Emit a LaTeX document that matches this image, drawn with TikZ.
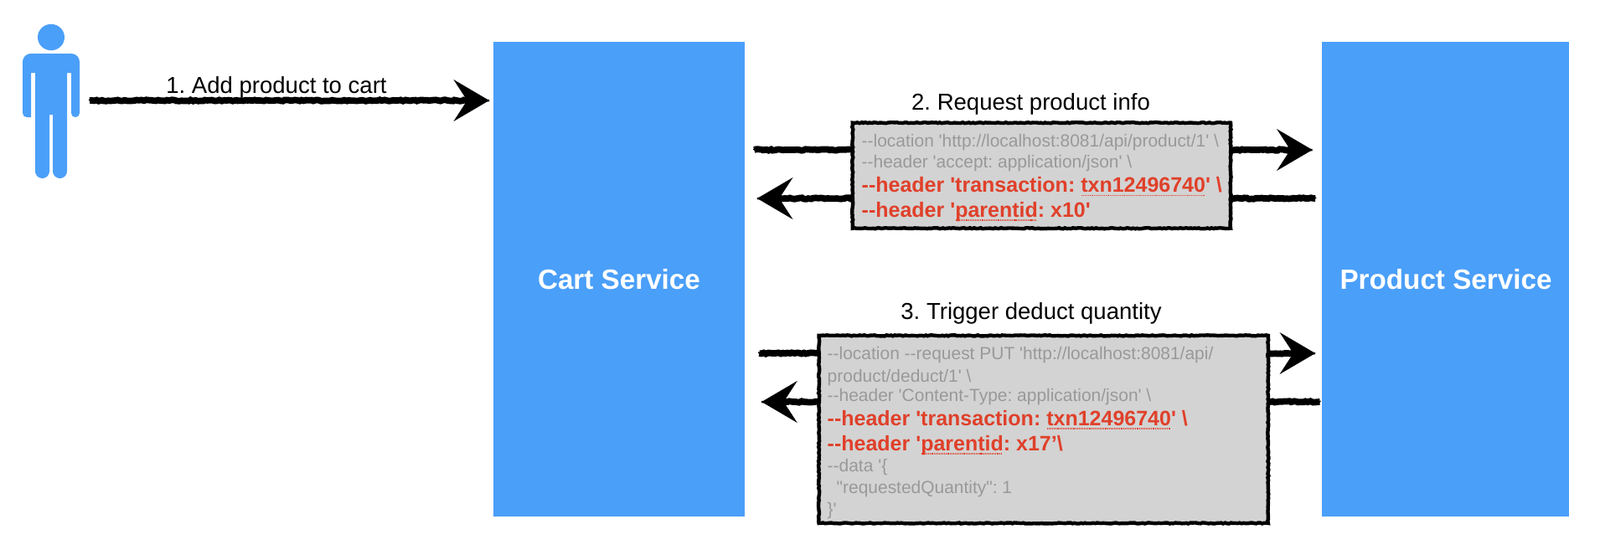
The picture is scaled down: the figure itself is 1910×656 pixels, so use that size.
\documentclass[tikz,border=0pt]{standalone}
\usepackage{fontspec}
\setmainfont{Liberation Sans}
\newfontfamily\plainfont{Liberation Sans}
\usetikzlibrary{arrows.meta,decorations.pathmorphing}

\definecolor{svcblue}{HTML}{4A9FF9}
\definecolor{codered}{HTML}{E0402A}
\definecolor{codegray}{HTML}{999999}
\definecolor{boxgray}{HTML}{D3D3D3}

\newcommand{\spellmark}[1]{\setbox0=\hbox{#1}\rlap{\raisebox{-1.3pt}{\hbox to \wd0{\leaders\hbox to .6pt{\hss\rule{.32pt}{.32pt}\hss}\hfill}}}\box0}

\tikzset{
  svcbox/.style={fill=svcblue,inner sep=0pt,outer xsep=3.2pt},
  svcname/.style={anchor=base,inner sep=0pt,text=white,font=\frenchspacing\fontsize{9.45}{11}\selectfont\bfseries},
  steplabel/.style={anchor=base,inner sep=0pt,font=\frenchspacing\fontsize{7.83}{9}\selectfont},
  jagged/.style={decorate,decoration={random steps,segment length=.7pt,amplitude=#1}},
  codebox/.style={draw=black,fill=boxgray,line width=1.25pt,inner sep=0pt,jagged=.16pt},
  roughline/.style={line width=2.2pt,decorate,
    decoration={random steps,segment length=.8pt,amplitude=.22pt,post=lineto,post length=8pt},
    -{Stealth[length=12pt,width=14pt,inset=4.5pt]},
    postaction={draw,-,line width=.7pt,jagged=.7pt}},
  grayline/.style={anchor=base west,inner sep=0pt,text=codegray,font=\frenchspacing\plainfont\fontsize{5.96}{7}\selectfont},
  redline/.style={anchor=base west,inner sep=0pt,text=codered,font=\frenchspacing\plainfont\fontsize{7.11}{8.5}\selectfont\bfseries},
}

\begin{document}
\begin{tikzpicture}[x=0.01cm,y=-0.01cm]
\useasboundingbox (0,0) rectangle (1910,656);

  % user
  \fill[svcblue] (61,44.5) ellipse (16 and 15.7);
  \fill[svcblue] (37,87) -- (37,140) [rounded corners=1.4pt] -- (27,140) [rounded corners=2.8pt] -- (27,64) -- (95,64)
    [rounded corners=1.4pt] -- (95,140) -- (85,140) [sharp corners] -- (85,87) -- (80,87)
    [rounded corners=2.4pt] -- (80,213) -- (63,213) [sharp corners] -- (63,137) -- (59,137)
    [rounded corners=2.4pt] -- (59,213) -- (42,213) [sharp corners] -- (42,87) -- cycle;

  % services
  \node[svcbox,minimum width=3cm,minimum height=5.67cm] (cart) at (739,333.5) {};
  \node[svcbox,minimum width=2.95cm,minimum height=5.67cm] (product) at (1725.5,333.5) {};
  \node[svcname] (cartname) at (739,345) {Cart Service};
  \node[svcname] (productname) at (1726,345) {Product Service};

  \coordinate (addstart) at (107,120);
  \coordinate (addend) at (584,120);
  \coordinate (reqout) at (1200,179);
  \coordinate (reqback) at (1200,237);
  \coordinate (putout) at (1200,422);
  \coordinate (putback) at (1200,480);

  \draw[roughline] (addstart)--(addend);
  \draw[roughline] (cart.east |- reqout)--(product.west |- reqout);
  \draw[roughline] ([xshift=1pt]product.west |- reqback)--([xshift=1pt]cart.east |- reqback);
  \draw[roughline] ([xshift=1.7pt]cart.east |- putout)--([xshift=1pt]product.west |- putout);
  \draw[roughline] ([xshift=2.5pt]product.west |- putback)--([xshift=2.5pt]cart.east |- putback);

  \node[steplabel] (addlabel) at (330,111.7) {1. Add product to cart};
  \node[steplabel] (reqlabel) at (1230.5,131.5) {2. Request product info};
  \node[steplabel] (putlabel) at (1231,381.7) {3. Trigger deduct quantity};

  % request boxes
  \node[codebox,minimum width=4.51cm,minimum height=1.26cm] (reqbox) at (1243.4,209.7) {};
  \node[grayline] (reqa) at (1028,175) {-{}-location 'http://localhost:8081/api/product/1' \textbackslash};
  \node[grayline] (reqb) at (1028,200) {-{}-header 'accept: application/json' \textbackslash};
  \node[redline] (reqc) at (1028,229.5) {-{}-header 'transaction: \spellmark{txn12496740}' \textbackslash};
  \node[redline] (reqd) at (1028,259) {-{}-header '\spellmark{parentid}: x10'};

  \node[codebox,minimum width=5.36cm,minimum height=2.24cm] (putbox) at (1245.7,512.9) {};
  \node[grayline] (puta) at (987,429) {-{}-location -{}-request PUT 'http://localhost:8081/api/};
  \node[grayline] (putb) at (987,456) {product/deduct/1' \textbackslash};
  \node[grayline] (putc) at (987,479) {-{}-header 'Content-Type: application/json' \textbackslash};
  \node[redline] (putd) at (987,508) {-{}-header 'transaction: \spellmark{txn12496740}' \textbackslash};
  \node[redline] (pute) at (987,538) {-{}-header '\spellmark{parentid}: x17’\textbackslash};
  \node[grayline] (putf) at (987,563) {-{}-data '\{};
  \node[grayline] (putg) at (998,589) {"requestedQuantity": 1};
  \node[grayline] (puth) at (987,615) {\}'};

\end{tikzpicture}
\end{document}
